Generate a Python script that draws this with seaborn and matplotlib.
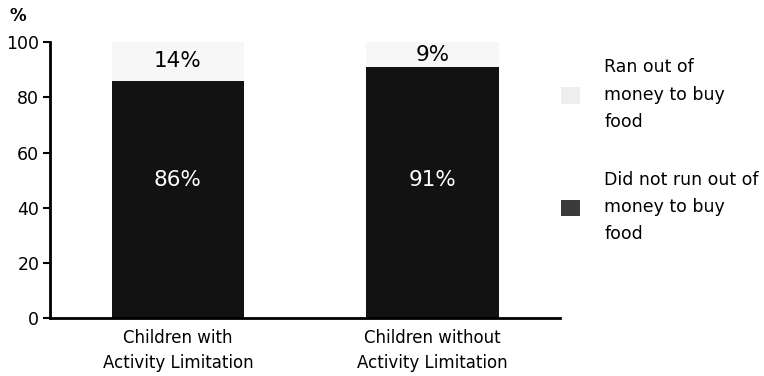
import pandas as pd
import matplotlib.pyplot as plt
import seaborn as sns
from matplotlib.patches import Patch

categories = ["Children with\nActivity Limitation", "Children without\nActivity Limitation"]
did_not_run_out = [86, 91]
ran_out = [14, 9]
series_names = ["Ran out of\nmoney to buy\nfood", "Did not run out of\nmoney to buy\nfood"]

df = pd.DataFrame({"group": categories, "did_not": did_not_run_out, "ran_out": ran_out})
df["total"] = df["did_not"] + df["ran_out"]

sns.set_style("white", {"text.color": "black", "xtick.color": "black",
                        "ytick.color": "black", "axes.labelcolor": "black"})
plt.rcParams['font.family'] = ['DejaVu Sans']

dark = "#121212"
light = "#f7f7f7"

fig = plt.figure(figsize=(7.64, 3.76), dpi=100)
ax = fig.add_axes([0.066, 0.154, 0.667, 0.734])

sns.barplot(data=df, x="group", y="total", color=light, width=0.52,
            saturation=1, ax=ax, edgecolor="none")
sns.barplot(data=df, x="group", y="did_not", color=dark, width=0.52,
            saturation=1, ax=ax, edgecolor="none")

for i, row in df.iterrows():
    ax.text(i, 50, f"{row['did_not']}%", ha="center", va="center",
            color="white", fontsize=15.5)
    ax.text(i, row["did_not"] + row["ran_out"] / 2, f"{row['ran_out']}%",
            ha="center", va="center", color="black", fontsize=15.5)

ax.set_ylim(0, 100)
ax.set_xlim(-0.5, 1.5)
ax.set_yticks(range(0, 101, 20))
ax.set_xlabel("")
ax.set_ylabel("")
ax.tick_params(axis="y", labelsize=12.5, length=5, width=1.5, direction="out",
               left=True, pad=3, colors="black")
ax.tick_params(axis="x", labelsize=12, length=0, pad=8, colors="black")
for lbl in ax.get_xticklabels():
    lbl.set_linespacing(1.5)
for side in ["top", "right"]:
    ax.spines[side].set_visible(False)
for side in ["left", "bottom"]:
    ax.spines[side].set_color("black")
    ax.spines[side].set_linewidth(2)

fig.text(0.012, 0.945, "%", fontsize=12, fontweight="bold", color="black")

handles = [Patch(facecolor="#eeeeee", edgecolor="none"),
           Patch(facecolor="#3a3a3a", edgecolor="none")]
leg = fig.legend(handles, series_names, loc="upper left", bbox_to_anchor=(0.734, 0.845),
                 frameon=False, fontsize=12.5, handlelength=1.1, handleheight=1.1,
                 labelspacing=2.3, handletextpad=1.4, borderpad=0, borderaxespad=0)
for t in leg.get_texts():
    t.set_linespacing(1.66)
    t.set_color("black")

fig.savefig("out.png", dpi=100)
